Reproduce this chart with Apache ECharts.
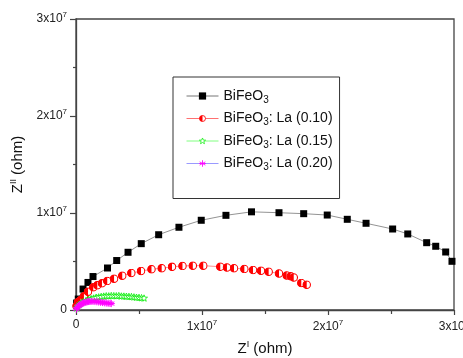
<!DOCTYPE html>
<html><head><meta charset="utf-8">
<script src="https://cdn.jsdelivr.net/npm/echarts@6/dist/echarts.min.js"></script>
<style>html,body{margin:0;padding:0;background:#fff}#c{width:463px;height:358px}</style>
</head><body><div id="c"></div>
<script>
// values in units of 1e6 ohm
var blackX = [0.05,0.18,0.56,0.95,1.35,2.5,3.23,4.13,5.18,6.56,8.17,9.94,11.9,13.93,16.11,18.07,19.94,21.53,23.02,25.13,26.33,27.83,28.55,29.34,29.84];
var blackY = [0.72,1.13,2.16,2.84,3.45,4.33,5.1,5.95,6.84,7.76,8.53,9.25,9.76,10.12,10.03,9.93,9.79,9.35,8.94,8.35,7.84,6.94,6.57,5.98,5.02];
var redX = [0.04,0.16,0.37,0.63,0.95,1.37,1.69,2.06,2.48,3.02,3.67,4.39,5.16,5.99,6.8,7.62,8.45,9.27,10.1,11.45,11.98,12.54,13.36,14.05,14.68,15.29,16.11,16.72,17.04,17.28,17.88,18.31];
var redY = [0.41,0.82,1.03,1.41,1.89,2.34,2.55,2.75,2.99,3.23,3.54,3.81,4.02,4.2,4.31,4.45,4.54,4.57,4.57,4.46,4.38,4.3,4.23,4.12,4.05,3.95,3.76,3.56,3.47,3.35,2.78,2.61];
var greenX = [0.05,0.15,0.3,0.45,0.6,0.8,1.0,1.2,1.4,1.6,1.8,2.0,2.2,2.4,2.6,2.8,3.0,3.2,3.4,3.6,3.8,4.0,4.2,4.4,4.6,4.8,5.0,5.2,5.4];
var greenY = [0.2,0.4,0.6,0.75,0.85,0.98,1.08,1.15,1.22,1.3,1.33,1.38,1.42,1.45,1.44,1.47,1.46,1.45,1.47,1.43,1.42,1.4,1.38,1.37,1.33,1.3,1.28,1.25,1.22];
var magX = [0.03,0.1,0.2,0.3,0.4,0.5,0.6,0.7,0.8,0.9,1.0,1.1,1.2,1.35,1.5,1.65,1.8,1.95,2.1,2.25,2.4,2.55,2.7,2.8];
var magY = [0.1,0.25,0.4,0.52,0.6,0.68,0.73,0.78,0.82,0.85,0.87,0.88,0.89,0.88,0.87,0.85,0.83,0.8,0.77,0.74,0.72,0.7,0.68,0.66];
var seriesNames = ['BiFeO3', 'BiFeO3: La (0.10)', 'BiFeO3: La (0.15)', 'BiFeO3: La (0.20)'];
var xTickLabels = ['0', '1x10|7', '2x10|7', '3x10|7'];
var yTickLabels = ['0', '1x10|7', '2x10|7', '3x10|7'];
var SCALE = 1e6;

function pts(xs, ys) { return xs.map(function (x, i) { return [x * SCALE, ys[i] * SCALE]; }); }
function svgImg(s) { return 'image://data:image/svg+xml;charset=utf-8,' + encodeURIComponent(s); }
var halfCircle = svgImg('<svg xmlns="http://www.w3.org/2000/svg" width="20" height="20" viewBox="0 0 20 20"><circle cx="10" cy="10" r="8.3" fill="#fff" stroke="#f00" stroke-width="2.4"/><path d="M10 1.7 A8.3 8.3 0 0 0 10 18.3 Z" fill="#f00"/></svg>');
var starOutline = svgImg('<svg xmlns="http://www.w3.org/2000/svg" width="20" height="20" viewBox="0 0 20 20"><polygon points="10,1.5 12.4,7.4 18.7,7.6 13.7,11.5 15.5,17.8 10,14.1 4.5,17.8 6.3,11.5 1.3,7.6 7.6,7.4" fill="#fff" stroke="#00ee00" stroke-width="2"/></svg>');
var asterisk = svgImg('<svg xmlns="http://www.w3.org/2000/svg" width="20" height="20" viewBox="0 0 20 20"><g stroke="#ff00ff" stroke-width="2.4" stroke-linecap="round"><line x1="10" y1="2" x2="10" y2="18"/><line x1="3" y1="6" x2="17" y2="14"/><line x1="3" y1="14" x2="17" y2="6"/><line x1="2" y1="10" x2="18" y2="10"/></g></svg>');

function tickFmt(labels) {
  return function (v) {
    var idx = Math.round(v / 1e7);
    var t = labels[idx];
    if (t === undefined) return '';
    var p = t.split('|');
    return p.length > 1 ? '{a|' + p[0] + '}{s|' + p[1] + '}' : '{a|' + p[0] + '}';
  };
}
var FF = 'Liberation Sans, Arial';
var richTick = {
  a: { fontSize: 12, fontFamily: FF, color: '#222' },
  s: { fontSize: 8, fontFamily: FF, color: '#222', padding: [0, 0, 8, 0] }
};
var richLegend = {
  a: { fontSize: 14, fontFamily: FF, color: '#111', lineHeight: 16 },
  b: { fontSize: 10, fontFamily: FF, color: '#111', padding: [8, 0, 0, 0], lineHeight: 8 }
};
var richName = {
  a: { fontSize: 15, fontFamily: FF, color: '#111' },
  s: { fontSize: 9, fontFamily: FF, color: '#111', padding: [0, 0, 9, 0] }
};

var chart = echarts.init(document.getElementById('c'), null, { renderer: 'canvas' });
chart.setOption({
  backgroundColor: '#fff',
  animation: false,
  grid: { left: 76, right: 9, top: 19, bottom: 48, containLabel: false, outerBoundsMode: 'none',
    show: true, borderColor: '#444', borderWidth: 1.3, backgroundColor: 'transparent' },
  legend: {
    orient: 'vertical', left: 173, top: 77,
    padding: [10, 7, 26, 13], itemGap: 4.5, itemWidth: 32, itemHeight: 9,
    borderColor: '#333', borderWidth: 1, backgroundColor: '#fff',
    lineStyle: { width: 1 },
    data: seriesNames,
    formatter: function (n) { return n.replace('BiFeO3', '{a|BiFeO}{b|3}{a|').replace(/$/, '}').replace('{a|}', ''); },
    textStyle: { rich: richLegend }
  },
  xAxis: {
    type: 'value', min: 0, max: 3e7, interval: 1e7,
    name: '{a|Z}{s|I}{a| (ohm)}', nameLocation: 'middle', nameGap: 30,
    nameTextStyle: { rich: richName },
    axisLine: { onZero: false, lineStyle: { color: '#444', width: 1.3 } },
    axisTick: { show: true, length: 5, lineStyle: { color: '#444', width: 1.2 } },
    minorTick: { show: true, splitNumber: 2, length: 4, lineStyle: { color: '#444', width: 1.2 } },
    splitLine: { show: false },
    axisLabel: { formatter: tickFmt(xTickLabels), rich: richTick, margin: 9 }
  },
  yAxis: {
    type: 'value', min: 0, max: 3e7, interval: 1e7,
    name: '{a|Z}{s|II}{a| (ohm)}', nameLocation: 'middle', nameGap: 37, nameRotate: 90,
    nameTextStyle: { rich: richName },
    axisLine: { onZero: false, lineStyle: { color: '#444', width: 1.3 } },
    axisTick: { show: true, length: 6, lineStyle: { color: '#444', width: 1.2 } },
    minorTick: { show: true, splitNumber: 2, length: 3, lineStyle: { color: '#444', width: 1.2 } },
    splitLine: { show: false },
    axisLabel: { formatter: tickFmt(yTickLabels), rich: richTick, margin: 9 }
  },
  series: [
    { name: seriesNames[0], type: 'line', data: pts(blackX, blackY), symbol: 'rect', symbolSize: 7,
      itemStyle: { color: '#000' }, lineStyle: { color: '#777', width: 0.8 } },
    { name: seriesNames[1], type: 'line', data: pts(redX, redY), symbol: halfCircle, symbolSize: 9,
      itemStyle: { color: '#f00' }, lineStyle: { color: '#ff7070', width: 0.8 } },
    { name: seriesNames[2], type: 'line', data: pts(greenX, greenY), symbol: starOutline, symbolSize: 8,
      itemStyle: { color: '#0e0' }, lineStyle: { color: '#80ff80', width: 0.8 } },
    { name: seriesNames[3], type: 'line', data: pts(magX, magY), symbol: asterisk, symbolSize: 8,
      itemStyle: { color: '#f0f' }, lineStyle: { color: '#9a9aff', width: 0.8 } }
  ]
});
</script></body></html>
